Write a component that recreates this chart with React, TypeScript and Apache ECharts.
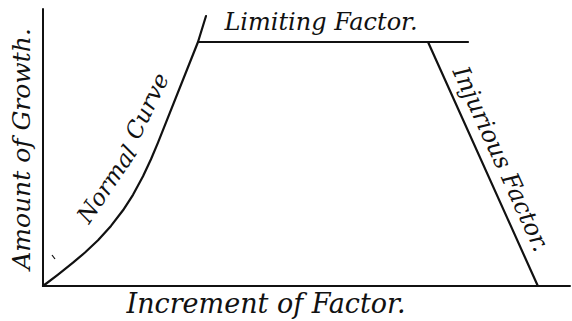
import React, { useEffect, useRef } from "react";
import * as echarts from "echarts";

// Arbitrary units: x 0..100 (increment of factor), y 0..100 (amount of growth)
const normalX = [0, 2.85, 5.69, 7.97, 10.44, 12.9, 15.18, 17.08, 18.98, 20.49, 21.82, 29.41, 30.93];
const normalY = [0, 4.12, 8.41, 12.09, 16.53, 21.7, 27.33, 32.92, 39.6, 45.74, 51.77, 88.09, 97.47];
const limitingX = [29.41, 80.65];
const limitingY = [88.09, 88.09];
const injuriousX = [73.1, 93.9];
const injuriousY = [87.9, 0];

const labels = {
  limiting: "Limiting Factor.",
  injurious: "Injurious Factor.",
  normal: "Normal",
  curve: "Curve",
  xName: "Increment of Factor.",
  yName: "Amount of Growth.",
};

const INK = "#111111";
const FONT = '"DejaVu Serif", "Liberation Serif", serif';

const zip = (xs: number[], ys: number[]) => xs.map((x, i) => [x, ys[i]]);
const deg = (d: number) => (d * Math.PI) / 180;

function txt(text: string, x: number, y: number, rot: number, size: number) {
  return {
    type: "text",
    x,
    y,
    rotation: deg(rot),
    style: {
      text,
      x: 0,
      y: 0,
      fill: INK,
      font: `italic ${size}px ${FONT}`,
      align: "center",
      verticalAlign: "middle",
      textAlign: "center",
      textVerticalAlign: "middle",
    },
  };
}

export default function App() {
  const ref = useRef<HTMLDivElement>(null);
  useEffect(() => {
    if (!ref.current) return;
    const chart = echarts.init(ref.current, undefined, { renderer: "svg" });
    const axisCommon = {
      type: "value",
      min: 0,
      max: 100,
      axisLine: { show: true, onZero: false, lineStyle: { color: INK, width: 2 } },
      axisTick: { show: false },
      axisLabel: { show: false },
      splitLine: { show: false },
    };
    const lineStyle = { color: INK, width: 2.2, cap: "round", join: "round" };
    chart.setOption({
      animation: false,
      backgroundColor: "#ffffff",
      grid: { left: 43, right: 2, top: 9, bottom: 35 },
      xAxis: { ...axisCommon },
      yAxis: { ...axisCommon },
      series: [
        { type: "line", data: zip(normalX, normalY), symbol: "none", lineStyle },
        { type: "line", data: zip(limitingX, limitingY), symbol: "none", lineStyle },
        { type: "line", data: zip(injuriousX, injuriousY), symbol: "none", lineStyle },
      ],
      graphic: [
        txt(labels.limiting, 321, 22, 0, 24),
        txt(labels.xName, 266, 303, 0, 27),
        txt(labels.yName, 21, 149, 90, 25),
        txt(labels.injurious, 501, 159, -65.5, 24),
        txt(labels.normal, 107, 184, 56, 23),
        txt(labels.curve, 147, 106, 64, 23),
        {
          type: "line",
          shape: { x1: 52, y1: 255, x2: 55, y2: 259 },
          style: { stroke: INK, lineWidth: 1.2 },
        },
      ],
    });
    return () => chart.dispose();
  }, []);
  return (
    <div
      ref={ref}
      style={{ position: "fixed", left: 0, top: 0, width: 572, height: 321, background: "#fff" }}
    />
  );
}
